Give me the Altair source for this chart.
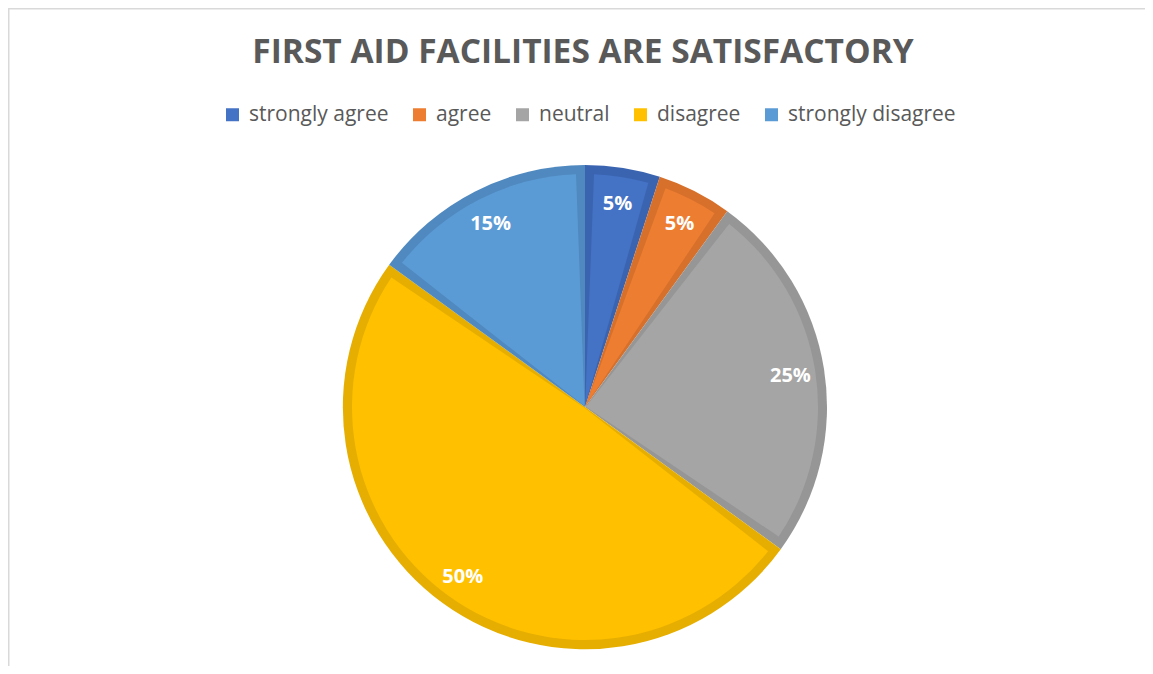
import altair as alt
import pandas as pd

categories = ["strongly agree", "agree", "neutral", "disagree", "strongly disagree"]
values = [5, 5, 25, 50, 15]
labels = ["5%", "5%", "25%", "50%", "15%"]
fill_colors = ["#4472C4", "#ED7D31", "#A5A5A5", "#FFC000", "#5B9BD5"]
edge_colors = ["#3A64B0", "#D6702B", "#969696", "#E6AE00", "#4F89BF"]
title_text = "FIRST AID FACILITIES ARE SATISFACTORY"

df = pd.DataFrame({"cat": categories, "val": values, "lab": labels, "ord": list(range(len(values)))})

CX, CY, R = 577, 399, 242
BW = 9
FONT = "Open Sans"

base = alt.Chart(df).encode(
    theta=alt.Theta("val:Q", stack=True),
    order=alt.Order("ord:Q"),
)

dark = base.mark_arc(outerRadius=R, stroke=None).encode(
    x=alt.value(CX), y=alt.value(CY),
    fill=alt.Fill("cat:N", scale=alt.Scale(domain=categories, range=edge_colors), legend=None),
)

light = base.mark_arc(outerRadius=R - BW, innerRadius=1, padAngle=2 * BW / (R - BW), stroke=None).encode(
    x=alt.value(CX), y=alt.value(CY),
    color=alt.Color("cat:N", scale=alt.Scale(domain=categories, range=fill_colors),
                    legend=alt.Legend(title=None, orient="none", direction="horizontal",
                                      legendX=214, legendY=96, symbolType="square",
                                      symbolSize=169, symbolStrokeWidth=0, labelFont=FONT,
                                      labelFontSize=21, labelColor="#595959", columnPadding=20,
                                      labelOffset=6, labelLimit=300)),
)

text = base.mark_text(radius=208, font=FONT, fontSize=20, fontWeight="bold", color="white", dy=2).encode(
    x=alt.value(CX), y=alt.value(CY),
    text="lab:N",
)

tdf = pd.DataFrame({"t": [title_text]})
title = alt.Chart(tdf).mark_text(font=FONT, fontSize=33.5, fontWeight="bold", color="#595959",
                                 baseline="middle", align="center").encode(
    x=alt.value(575), y=alt.value(44.5), text="t:N")

frame_df = pd.DataFrame({"k": [0]})
left_edge = alt.Chart(frame_df).mark_rule(color="#D9D9D9", strokeWidth=1.5).encode(
    x=alt.value(0.75), y=alt.value(0), y2=alt.value(700))
top_edge = alt.Chart(frame_df).mark_rule(color="#D9D9D9", strokeWidth=1.5).encode(
    x=alt.value(0), x2=alt.value(1200), y=alt.value(0.75))

chart = alt.layer(dark, light, text, title, left_edge, top_edge).resolve_scale(
    color="independent", fill="independent"
).properties(
    width=1137, height=658, autosize=alt.AutoSizeParams(type="none"), padding=0
).configure_view(stroke=None)

chart.save("out.html", embed_options={"renderer": "svg", "actions": False})
